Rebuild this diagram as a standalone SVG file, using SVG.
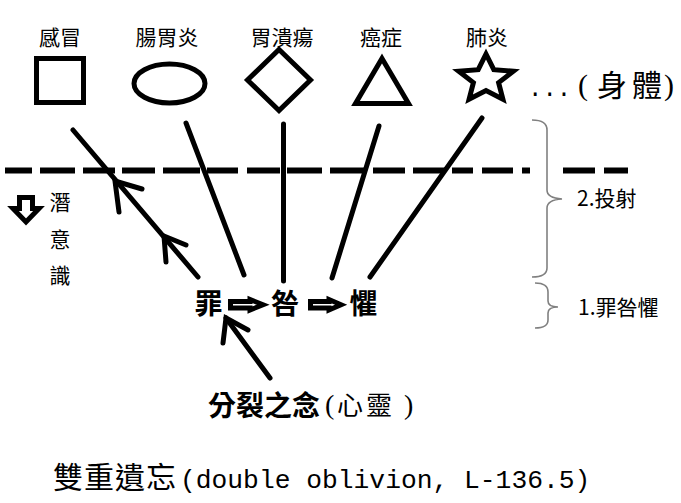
<svg xmlns="http://www.w3.org/2000/svg" width="681" height="503" viewBox="0 0 681 503">
<style>
.shape{fill:none;stroke:#000;stroke-width:5;stroke-linejoin:miter}
.lbl{font-family:"Noto Sans CJK TC","Noto Sans CJK SC",sans-serif;font-size:21px;fill:#000;text-anchor:middle}
.big{font-family:"Noto Sans CJK TC","Noto Sans CJK SC",sans-serif;font-size:28px;font-weight:bold;fill:#000}
.side{font-family:"Noto Sans CJK TC","Noto Sans CJK SC",sans-serif;font-size:21px;fill:#000}
.ser{font-family:"Liberation Serif",serif;fill:#000}
.conn{fill:none;stroke:#000;stroke-width:5;stroke-linecap:round;stroke-linejoin:miter}
.blk{fill:#fff;stroke:#000;stroke-width:5;stroke-linejoin:miter}
.brace{fill:none;stroke:#808080;stroke-width:1.6}
.dash{fill:none;stroke:#000;stroke-width:6}
</style>

<g id="node-cold">
  <text class="lbl" x="60" y="45">感冒</text>
  <rect class="shape" x="36.5" y="58.5" width="47" height="44"/>
</g>
<g id="node-enteritis">
  <text class="lbl" x="167" y="45">腸胃炎</text>
  <ellipse class="shape" cx="169.5" cy="83.5" rx="35.5" ry="19.5" stroke-width="4"/>
</g>
<g id="node-ulcer">
  <text class="lbl" x="282" y="45">胃潰瘍</text>
  <polygon class="shape" points="279,49.5 310.5,80 279,110.5 247.5,80"/>
</g>
<g id="node-cancer">
  <text class="lbl" x="381" y="45">癌症</text>
  <polygon class="shape" points="382,58.5 408.5,103.5 355.5,103.5"/>
</g>
<g id="node-pneumonia">
  <text class="lbl" x="487" y="45">肺炎</text>
  <polygon class="shape" points="486,54 493.8,69.7 513.3,71.3 498.6,82.6 502.9,99.2 486,90.5 469.1,99.2 473.4,82.6 458.7,71.3 478.2,69.7"/>
</g>
<g id="node-body">
  <text font-family="'Liberation Mono',monospace" font-size="24" x="528" y="96">...</text>
  <text class="ser" font-size="30" x="578" y="95">(</text>
  <text font-family="'Noto Sans CJK TC','Noto Sans CJK SC',sans-serif" font-size="30" y="96"><tspan x="597">身</tspan><tspan x="632">體</tspan></text>
  <text class="ser" font-size="30" x="664" y="95">)</text>
</g>

<g id="divider">
  <path class="dash" d="M5,170.5H32M40,170.5H75M83,170.5H115M122,170.5H155M163,170.5H200M207,170.5H238M247,170.5H280M287,170.5H322M330,170.5H365M373,170.5H405M413,170.5H445M452,170.5H473M482,170.5H513M522,170.5H530M563,170.5H595M604,170.5H628"/>
</g>

<g id="node-subconscious">
  <polygon class="blk" stroke-width="4.5" points="19.5,197.5 32.5,197.5 32.5,208.5 39,208.5 26,222 13,208.5 19.5,208.5"/>
  <text class="side" x="60" y="210" text-anchor="middle" font-size="22">潛</text>
  <text class="side" x="60" y="247" text-anchor="middle" font-size="22">意</text>
  <text class="side" x="60" y="283" text-anchor="middle" font-size="22">識</text>
</g>

<g id="node-sin">
  <text class="big" x="208.5" y="314" text-anchor="middle">罪</text>
</g>
<g id="node-guilt">
  <text class="big" x="285" y="314" text-anchor="middle">咎</text>
</g>
<g id="node-fear">
  <text class="big" x="363.5" y="314" text-anchor="middle">懼</text>
</g>
<g id="node-split">
  <text class="big" x="208" y="416">分裂之念</text>
  <text class="ser" font-size="28" x="325" y="414">(</text>
  <text font-family="'Noto Sans CJK TC','Noto Sans CJK SC',sans-serif" font-size="26" y="415"><tspan x="337">心</tspan><tspan x="366">靈</tspan></text>
  <text class="ser" font-size="28" x="404" y="414">)</text>
</g>

<g id="brace-projection">
  <path class="brace" d="M532,120Q547,120 547,130L547,190Q547,198 562,199Q547,200 547,208L547,268Q547,277 532,277"/>
  <text class="side" x="577" y="206">2.投射</text>
</g>
<g id="brace-sgf">
  <path class="brace" d="M535,283Q548,283 548,292L548,301Q548,307 558,307Q548,307 548,313L548,320Q548,328 535,328"/>
  <text class="side" x="578" y="315">1.罪咎懼</text>
</g>

<g id="connectors">
  <path class="conn" d="M73,130L198,277"/>
  <path class="conn" d="M142,189L115,181L119,212"/>
  <path class="conn" d="M186,245L164,236L166,262"/>
  <path class="conn" d="M186,123L244,275"/>
  <path class="conn" d="M283.5,124L283.5,281"/>
  <path class="conn" d="M379,126L332,278"/>
  <path class="conn" d="M482,118L370,277"/>
  <path class="conn" d="M270,378L226,318"/>
  <path class="conn" d="M223,343L226,318L248,330"/>
  <polygon class="blk" points="230.5,301.5 250,301.5 250,299.5 263,304.75 250,310 250,308 230.5,308"/>
  <polygon class="blk" points="310.5,301.5 329,301.5 329,299.5 341,304.75 329,310 329,308 310.5,308"/>
</g>

<g id="caption">
  <text y="488"><tspan font-family="'Noto Sans CJK TC','Noto Sans CJK SC',serif" font-size="30" letter-spacing="1" x="53">雙重遺忘</tspan><tspan font-family="'Liberation Mono',monospace" font-size="26.3" x="180">(double oblivion, L-136.5)</tspan></text>
</g>
</svg>
